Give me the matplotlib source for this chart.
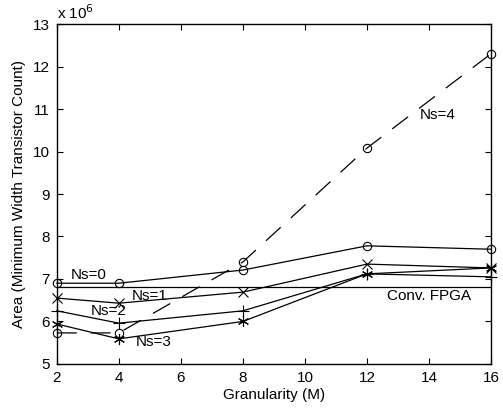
import matplotlib
matplotlib.use("Agg")
import matplotlib.pyplot as plt

plt.rcParams['font.family'] = ['Liberation Sans', 'DejaVu Sans']

granularity = [2, 4, 8, 12, 16]
ns0 = [6.90, 6.90, 7.21, 7.78, 7.70]
ns1 = [6.55, 6.43, 6.69, 7.35, 7.26]
ns2 = [6.25, 5.96, 6.25, 7.12, 7.05]
ns3 = [5.94, 5.59, 6.00, 7.12, 7.26]
ns4 = [5.73, 5.73, 7.40, 10.08, 12.30]
conv_fpga = 6.81

fig = plt.figure(figsize=(5.03, 4.08), dpi=100)
ax = fig.add_axes([0.113, 0.108, 0.863, 0.833])

lw = 0.9
kw = dict(color='black', linewidth=lw, markerfacecolor='none', markeredgecolor='black',
          markeredgewidth=0.8, clip_on=False)
ax.plot(granularity, ns0, marker='o', markersize=6, **kw)
ax.plot(granularity, ns1, marker='x', markersize=7, **kw)
ax.plot(granularity, ns2, marker='+', markersize=8, **kw)
ax.plot(granularity, ns3, marker=(6, 2, 0), markersize=8, **kw)
ax.plot(granularity, ns4, marker='o', markersize=6, dashes=(16, 11), **kw)
ax.axhline(conv_fpga, color='black', linewidth=lw)

fs = 11
ax.text(2.45, 7.09, 'Ns=0', fontsize=fs, va='center')
ax.text(4.42, 6.60, 'Ns=1', fontsize=fs, va='center')
ax.text(3.10, 6.25, 'Ns=2', fontsize=fs, va='center')
ax.text(4.55, 5.52, 'Ns=3', fontsize=fs, va='center')
ax.text(13.7, 10.86, 'Ns=4', fontsize=fs, va='center')
ax.text(12.65, 6.60, 'Conv. FPGA', fontsize=fs, va='center')

ax.set_xlim(2, 16)
ax.set_ylim(5, 13)
ax.set_xticks([2, 4, 6, 8, 10, 12, 14, 16])
ax.set_yticks(range(5, 14))
ax.tick_params(direction='in', top=True, right=True, labelsize=fs, length=4, width=0.8)
ax.tick_params(axis='x', pad=5)
ax.tick_params(axis='y', pad=5)
for s in ax.spines.values():
    s.set_linewidth(1.0)

ax.set_xlabel('Granularity (M)', fontsize=fs, labelpad=2)
ax.set_ylabel('Area (Minimum Width Transistor Count)', fontsize=fs, labelpad=5)
ax.text(0.0, 1.005, r'x 10$^6$', transform=ax.transAxes, fontsize=fs, va='bottom', ha='left')

fig.savefig('out.png', dpi=100)
